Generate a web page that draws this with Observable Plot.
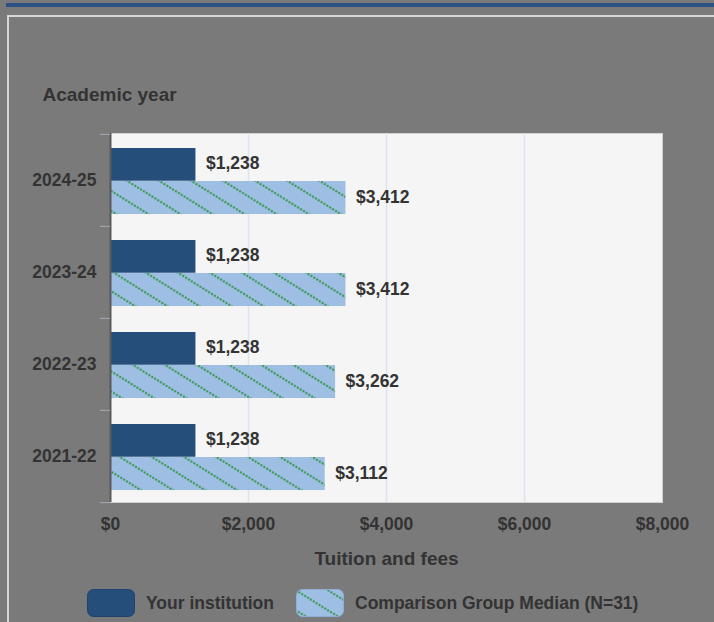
<!DOCTYPE html>
<html>
<head>
<meta charset="utf-8">
<script src="https://cdn.jsdelivr.net/npm/d3@7"></script>
<script src="https://cdn.jsdelivr.net/npm/@observablehq/plot@0.6"></script>
<style>
  html, body { margin: 0; padding: 0; }
  body { width: 714px; height: 622px; overflow: hidden; background: #7a7a7a; position: relative;
         font-family: "Liberation Sans", Arial, sans-serif; }
  #topbar { position: absolute; left: 6px; top: 3px; width: 710px; height: 4px; background: #2c5283; }
  #panel { position: absolute; left: 7px; top: 15px; width: 730px; height: 640px; border: 2px solid #d6d6d6; box-sizing: border-box; }
  #chart { position: absolute; left: 0; top: 60px; }
  #legend { position: absolute; left: 87px; top: 589px; display: flex; align-items: center;
            font-size: 17.5px; font-weight: bold; color: #333; }
  #legend .sw { width: 48px; height: 28px; display: block; }
  #legend .lab { margin-left: 11px; margin-right: 22px; }
</style>
</head>
<body>
<div id="topbar"></div>
<div id="panel"></div>
<div id="chart"></div>
<div id="legend"></div>
<script>
// ---- data ----
const years = ["2024-25", "2023-24", "2022-23", "2021-22"];
const institution = [1238, 1238, 1238, 1238];
const comparison = [3412, 3412, 3262, 3112];
const xTicks = [0, 2000, 4000, 6000, 8000];
const seriesNames = ["Your institution", "Comparison Group Median (N=31)"];
const yTitle = "Academic year";
const xTitle = "Tuition and fees";

const rows = years.map((y, i) => ({year: y, inst: institution[i], comp: comparison[i]}));
const fmt = d => "$" + d3.format(",")(d);

const W = 714, H = 520, mT = 73, mB = 78, mL = 110, mR = 52;
const bw = (H - mT - mB) / years.length;
const darkBlue = "#254e7b";
const txt = "#333";

const chart = Plot.plot({
  width: W, height: H,
  marginTop: mT, marginBottom: mB, marginLeft: mL, marginRight: mR,
  style: {background: "transparent", fontFamily: "'Liberation Sans', Arial, sans-serif",
          fontSize: "17.5px", fontWeight: "bold", color: txt, overflow: "visible"},
  x: {domain: [0, 8000]},
  y: {domain: years, padding: 0},
  marks: [
    Plot.frame({fill: "#f5f5f5", stroke: "#d0d0d0"}),
    Plot.gridX(xTicks.slice(1, -1), {stroke: "#dde4ee", strokeOpacity: 1, strokeWidth: 1.6}),
    Plot.barX(rows, {x: "inst", y: "year", fill: darkBlue, insetTop: 14, insetBottom: bw - 14 - 33}),
    Plot.barX(rows, {x: "comp", y: "year", fill: "url(#hatch)", insetTop: 47, insetBottom: bw - 47 - 33.3}),
    Plot.text(rows, {x: "inst", y: "year", text: d => fmt(d.inst), textAnchor: "start", dx: 10, dy: -bw / 2 + 29, fill: txt}),
    Plot.text(rows, {x: "comp", y: "year", text: d => fmt(d.comp), textAnchor: "start", dx: 10, dy: -bw / 2 + 63, fill: txt}),
    Plot.ruleX([0], {stroke: "#5a5a5a", strokeWidth: 2}),
    Plot.ruleY(years, {y: d => d, x1: 0, x2: 0, insetLeft: -10, dy: -bw / 2, stroke: "#a3abb6"}),
    Plot.ruleY([years[years.length - 1]], {y: d => d, x1: 0, x2: 0, insetLeft: -10, dy: bw / 2, stroke: "#a3abb6"}),
    Plot.axisX({ticks: xTicks, tickFormat: fmt, tickSize: 0, tickPadding: 15, label: null, fill: txt}),
    Plot.axisY({tickSize: 0, tickPadding: 14, label: null, fill: txt}),
    Plot.text([xTitle], {frameAnchor: "bottom", text: d => d, dy: 62, fontSize: 19, fill: txt}),
    Plot.text([yTitle], {frameAnchor: "top-left", text: d => d, textAnchor: "start", dx: 42 - mL, dy: 87 - 133, fontSize: 19, fill: txt})
  ]
});

const defs = `
<defs>
  <pattern id="hatch" patternUnits="userSpaceOnUse" width="3.4" height="17" patternTransform="rotate(32)">
    <rect width="3.4" height="17" fill="#9ebfe3"></rect>
    <circle cx="1.2" cy="1.2" r="1.15" fill="#2f9445"></circle>
  </pattern>
</defs>`;
d3.select(chart).insert("g", ":first-child").html(defs);
document.getElementById("chart").appendChild(chart);

// legend
const legend = d3.select("#legend");
const fills = [darkBlue, "url(#hatch)"];
seriesNames.forEach((name, i) => {
  const sw = legend.append("svg").attr("class", "sw").attr("width", 48).attr("height", 28);
  sw.append("rect").attr("x", 0.5).attr("y", 0.5).attr("width", 47).attr("height", 27)
    .attr("rx", 6).attr("fill", fills[i]).attr("stroke", i === 0 ? "#1f4470" : "#8fb0d6");
  legend.append("span").attr("class", "lab").text(name);
});
</script>
</body>
</html>
